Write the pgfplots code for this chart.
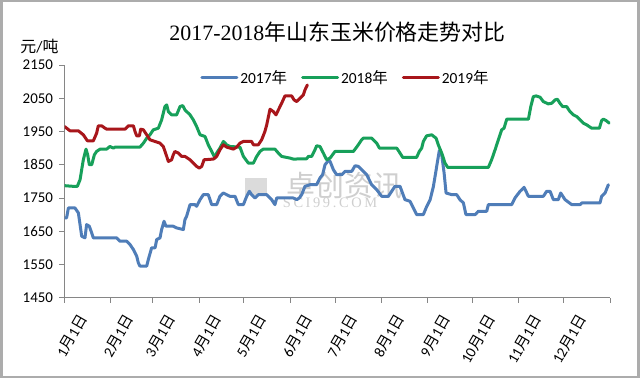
\documentclass[border=0pt]{standalone}
\usepackage{pgfplots}
\pgfplotsset{compat=1.18}
\usepackage{fontspec}
\setmainfont{Carlito}
\newfontfamily\cjk{Noto Sans CJK SC}
\newfontfamily\serif{Liberation Serif}
\newfontfamily\serifwide[LetterSpace=18]{Liberation Serif}
\definecolor{cBlue}{HTML}{4F7DB8}
\definecolor{cGreen}{HTML}{17A05A}
\definecolor{cRed}{HTML}{A8161B}
\definecolor{axgray}{HTML}{868686}
\newcommand{\ml}[1]{#1{\cjk 月}1{\cjk 日}}
\begin{document}
\begin{tikzpicture}[x=1bp,y=1bp]
\path[use as bounding box] (-64.5,-87.3) rectangle (575.5,297.7);
\fill[white] (-64.5,-87.3) rectangle (575.5,297.7);
\draw[line width=2.5bp, color=gray!65] (-63.2,-79.3) rectangle (574,296.5);
% watermark
\fill[gray!28] (180.5,103) rectangle (202.5,120);
\node[text=gray!38, font=\cjk\fontsize{29}{29}\selectfont] at (280,111.7) {卓创资讯};
\node[text=gray!38, font=\serifwide\fontsize{14.5}{14.5}\selectfont] at (265.5,94.7) {SCI99.COM};
\begin{axis}[
  at={(0,0)}, anchor=south west,
  scale only axis, width=545.5bp, height=232.7bp,
  xmin=0, xmax=365, ymin=1450, ymax=2150,
  axis x line*=bottom, axis y line*=left,
  axis line style={draw=axgray, line width=0.8bp},
  every tick/.style={draw=axgray, line width=0.8bp},
  tick align=outside, major tick length=5bp,
  xtick={0,31,59,90,120,151,181,212,243,273,304,334,365},
  xticklabels={\ml{1},\ml{2},\ml{3},\ml{4},\ml{5},\ml{6},\ml{7},\ml{8},\ml{9},\ml{10},\ml{11},\ml{12},{}},
  ytick={1450,1550,1650,1750,1850,1950,2050,2150},
  yticklabels={1450,1550,1650,1750,1850,1950,2050,2150},
  tick label style={font=\fontsize{15}{15}\selectfont},
  xticklabel style={rotate=60, anchor=east, yshift=-23bp, xshift=1bp},
  yticklabel style={xshift=-3bp},
  legend style={at={(0.515,0.946)}, anchor=center, draw=none, fill=none,
    legend columns=3, font=\fontsize{15.5}{15.5}\selectfont,
    /tikz/every even column/.append style={column sep=12bp}},
  legend image code/.code={\draw[#1] (0bp,0bp) -- (35bp,0bp);},
  every axis plot/.append style={line width=3bp, line join=round, line cap=round},
]
\addplot[cBlue] coordinates {
(0,1690)(1.4,1690)(2.6,1720)(7.0,1720)(9.3,1705)(11.5,1635)(13.7,1630)(14.8,1670)
(16.6,1665)(18.2,1645)(19.3,1630)(34.9,1630)(37.1,1620)(41.6,1620)(43.8,1610)
(46.1,1595)(48.3,1575)(49.4,1555)(50.5,1545)(55.0,1545)(56.1,1565)(58.3,1600)
(60.6,1600)(61.7,1625)(63.9,1630)(65.0,1655)(66.6,1680)(67.9,1665)(72.8,1665)
(75.0,1660)(79.5,1655)(80.6,1685)(81.7,1695)(84.0,1730)(87.3,1730)(88.4,1725)
(90.7,1745)(92.9,1760)(96.2,1760)(98.5,1730)(101.8,1730)(104.0,1755)(106.3,1765)
(108.5,1760)(110.7,1755)(114.1,1755)(116.3,1730)(119.7,1730)(121.9,1755)(123.7,1770)
(125.2,1760)(127.5,1750)(129.7,1760)(135.3,1760)(138.6,1745)(140.8,1730)(142.0,1750)
(153.1,1750)(155.4,1745)(157.1,1750)(158.7,1760)(160.9,1785)(164.3,1790)(168.7,1790)
(170.9,1810)(172.7,1820)(174.3,1850)(176.5,1862)(177.7,1860)(179.9,1835)(182.1,1820)
(185.5,1820)(187.7,1830)(192.2,1830)(194.4,1847)(196.6,1845)(198.8,1835)(202.2,1820)
(205.5,1790)(208.9,1775)(212.2,1755)(216.7,1755)(218.9,1770)(221.1,1785)(224.5,1785)
(227.8,1745)(231.2,1740)(233.4,1720)(235.6,1700)(240.1,1700)(242.3,1724)(244.6,1744)
(246.8,1784)(249.0,1844)(250.8,1893)(252.4,1880)(254.0,1825)(255.3,1765)(259.1,1760)
(262.4,1760)(264.6,1745)(266.9,1735)(268.6,1700)(274.7,1700)(276.9,1710)(282.5,1710)
(283.6,1730)(299.2,1730)(301.4,1750)(304.8,1770)(307.5,1782)(310.4,1755)(320.4,1755)
(322.6,1770)(324.9,1770)(327.1,1745)(330.4,1745)(332.0,1765)(334.9,1745)(339.4,1730)
(345.0,1730)(346.1,1735)(358.3,1735)(359.4,1755)(361.7,1765)(363.9,1790)
};
\addlegendentry{2017{\cjk 年}}
\addplot[cGreen] coordinates {
(0,1787)(5.9,1785)(8.6,1785)(10.4,1805)(12.6,1865)(14.4,1897)(15.5,1880)(16.6,1850)
(18.2,1850)(20.0,1880)(21.5,1890)(23.8,1897)(28.2,1897)(30.4,1905)(32.7,1900)
(33.8,1903)(50.5,1903)(52.8,1915)(55.0,1930)(57.2,1940)(59.4,1955)(62.8,1960)
(65.0,1985)(67.2,2025)(68.4,2030)(69.5,2010)(71.7,2000)(75.0,2000)(77.3,2025)
(79.1,2028)(80.6,2015)(84.0,2000)(86.2,1985)(88.4,1965)(90.7,1940)(94.0,1935)
(96.2,1910)(98.5,1890)(100.7,1870)(101.8,1885)(104.0,1900)(106.3,1920)(108.5,1910)
(110.7,1905)(117.4,1903)(119.7,1875)(123.0,1855)(126.4,1855)(128.6,1875)(130.8,1890)
(133.0,1897)(140.8,1897)(143.1,1885)(145.3,1875)(150.9,1870)(153.1,1867)(162.0,1868)
(163.2,1875)(165.4,1875)(167.6,1895)(168.7,1907)(170.9,1905)(173.2,1885)(175.4,1865)
(177.7,1870)(181.0,1890)(193.3,1890)(196.6,1910)(198.8,1925)(200.0,1930)(205.5,1930)
(208.9,1915)(210.7,1900)(222.3,1900)(224.5,1885)(226.3,1872)(235.6,1872)(237.4,1890)
(239.0,1900)(240.1,1920)(242.3,1937)(245.7,1940)(248.6,1930)(250.1,1910)(252.4,1885)
(254.6,1855)(256.4,1842)(283.6,1842)(285.8,1865)(288.1,1895)(290.3,1925)(292.5,1955)
(294.1,1960)(295.9,1987)(310.4,1987)(312.0,2025)(313.7,2055)(315.5,2057)(318.2,2053)
(320.4,2040)(323.7,2033)(326.0,2035)(328.2,2045)(329.8,2047)(331.5,2035)(333.3,2025)
(336.0,2025)(338.2,2010)(340.5,2000)(342.7,1995)(345.0,1985)(347.2,1975)(349.4,1970)
(352.7,1960)(357.9,1960)(359.4,1983)(360.5,1987)(362.3,1983)(364.6,1975)
};
\addlegendentry{2018{\cjk 年}}
\addplot[cRed] coordinates {
(0,1965)(1.4,1960)(3.7,1952)(9.3,1952)(12.6,1940)(15.3,1922)(19.3,1922)(21.5,1945)
(22.6,1967)(24.9,1967)(27.1,1960)(28.2,1957)(40.5,1957)(42.7,1967)(46.1,1967)
(47.2,1950)(48.3,1937)(50.1,1937)(51.0,1957)(52.8,1955)(55.0,1940)(57.2,1925)
(63.9,1915)(66.1,1905)(68.4,1875)(69.5,1860)(71.7,1865)(72.8,1880)(73.9,1890)
(76.2,1885)(78.4,1875)(80.6,1875)(84.0,1865)(86.2,1855)(88.4,1845)(90.2,1840)
(91.8,1845)(93.4,1865)(99.6,1867)(101.8,1875)(104.0,1895)(106.3,1910)(108.5,1903)
(113.0,1897)(115.2,1903)(117.4,1915)(119.7,1920)(125.2,1920)(126.4,1910)(129.7,1910)
(131.9,1925)(134.1,1950)(135.3,1970)(137.5,2017)(139.7,2010)(141.5,2000)(143.1,2015)
(145.3,2035)(147.5,2057)(152.0,2057)(153.6,2045)(155.4,2040)(157.6,2050)(159.8,2060)
(160.9,2075)(162.5,2090)
};
\addlegendentry{2019{\cjk 年}}
\end{axis}
\node[font=\fontsize{22}{22}\selectfont] at (273,265.2) {{\serif 2017-2018}{\cjk 年山东玉米价格走势对比}};
\node[font=\fontsize{16}{16}\selectfont] at (-25,251.7) {{\cjk 元}/{\cjk 吨}};
\end{tikzpicture}
\end{document}
